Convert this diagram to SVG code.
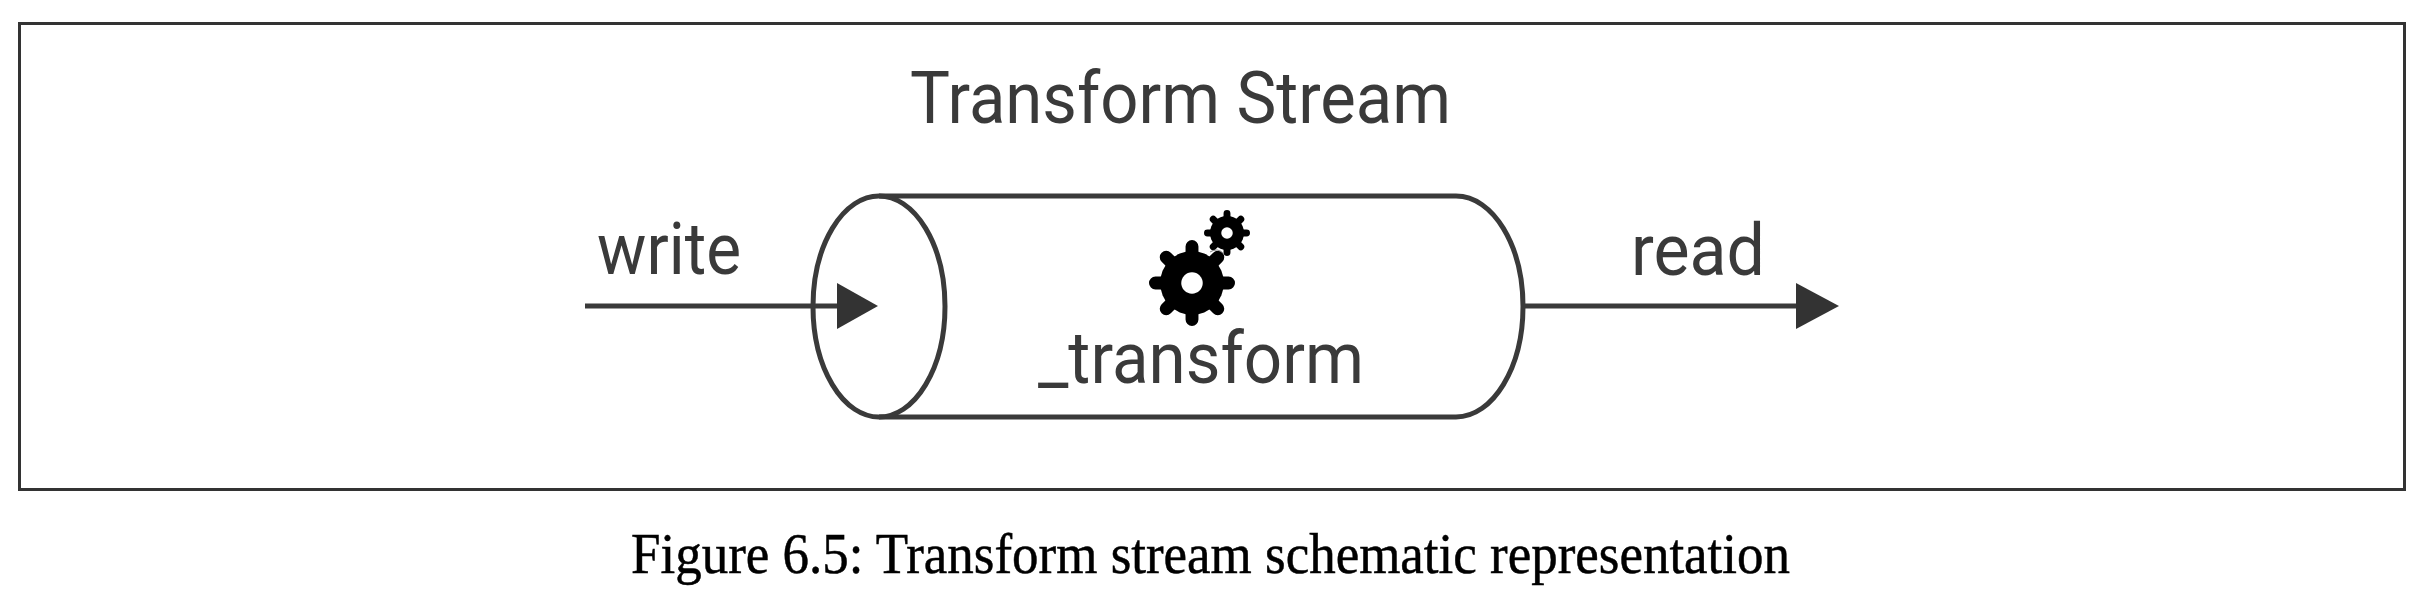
<svg xmlns="http://www.w3.org/2000/svg" width="2436" height="604" viewBox="0 0 2436 604">
<style>
.lbl{font-family:Roboto,"Liberation Sans",sans-serif;font-size:72px;fill:#3a3a3a}
.cap{font-family:"Liberation Serif","DejaVu Serif",serif;font-size:56px;fill:#000;stroke:#000;stroke-width:.5}
.ln{fill:none;stroke:#3a3a3a;stroke-width:5}
.head{fill:#333}
</style>
<defs>
<g id="gear">
<circle r="0.74" fill="#000"/>
<path d="M0-.85V.85M-.85 0H.85M-.6-.6L.6.6M-.6.6L.6-.6" stroke="#000" stroke-width="0.3" stroke-linecap="round" fill="none"/>
<circle r="0.25" fill="#fff"/>
</g>
</defs>
<rect width="2436" height="604" fill="#fff"/>
<g id="frame"><rect x="19.500" y="23.500" width="2385" height="466" fill="none" stroke="#333" stroke-width="3"/></g>
<g id="title"><text class="lbl" x="910" y="123" textLength="541" lengthAdjust="spacingAndGlyphs">Transform Stream</text></g>
<g id="cylinder">
<path class="ln" d="M879 196H1456C1493 196 1523 245.500 1523 306.500C1523 367.500 1493 417 1456 417H879"/>
<ellipse class="ln" cx="879" cy="306.500" rx="66" ry="110.500"/>
<text class="lbl" x="1038" y="383" textLength="326" lengthAdjust="spacingAndGlyphs">_transform</text>
</g>
<g id="gears">
<use href="#gear" transform="translate(1227 233) scale(23)"/>
<use href="#gear" transform="translate(1192 283) scale(43)"/>
<path d="M1210 252Q1218 247 1224 254" fill="none" stroke="#888" stroke-width="1"/>
</g>
<g id="connectors">
<path class="ln" d="M585 306H840"/>
<polygon class="head" points="837,283 878,306 837,329"/>
<path class="ln" d="M1523 306H1800"/>
<polygon class="head" points="1796,283 1839,306 1796,329"/>
</g>
<g id="write"><text class="lbl" x="597" y="274" textLength="144" lengthAdjust="spacingAndGlyphs">write</text></g>
<g id="read"><text class="lbl" x="1631" y="275" textLength="134" lengthAdjust="spacingAndGlyphs">read</text></g>
<g id="caption"><text class="cap" x="631" y="573" textLength="1159" lengthAdjust="spacingAndGlyphs">Figure 6.5: Transform stream schematic representation</text></g>
</svg>
